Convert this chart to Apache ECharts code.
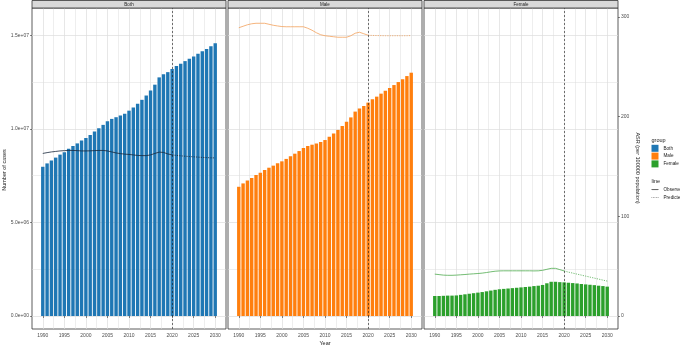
<!DOCTYPE html>
<html>
<head>
<meta charset="utf-8">
<script src="https://cdn.jsdelivr.net/npm/echarts@6/dist/echarts.min.js"></script>
<style>
  html, body { margin: 0; padding: 0; background: #fff; }
  #main { width: 680px; height: 347px; }
</style>
</head>
<body>
<div id="main"></div>
<script>
// data
const years = [1990, 1991, 1992, 1993, 1994, 1995, 1996, 1997, 1998, 1999,
  2000, 2001, 2002, 2003, 2004, 2005, 2006, 2007, 2008, 2009,
  2010, 2011, 2012, 2013, 2014, 2015, 2016, 2017, 2018, 2019,
  2020, 2021, 2022, 2023, 2024, 2025, 2026, 2027, 2028, 2029, 2030];
const groups = ['Both', 'Male', 'Female'];

const casesBoth = [7980000, 8160000, 8320000, 8470000, 8630000, 8760000, 8940000, 9090000, 9230000, 9390000,
  9520000, 9680000, 9860000, 10040000, 10220000, 10410000, 10540000, 10630000, 10720000, 10810000,
  10980000, 11150000, 11350000, 11560000, 11790000, 12060000, 12370000, 12760000, 12930000, 13040000,
  13210000, 13370000, 13490000, 13630000, 13760000, 13880000, 14020000, 14160000, 14280000, 14430000, 14580000];
const casesMale = [6910000, 7090000, 7240000, 7380000, 7540000, 7660000, 7810000, 7930000, 8040000, 8170000,
  8270000, 8400000, 8540000, 8680000, 8820000, 8980000, 9090000, 9160000, 9230000, 9300000,
  9410000, 9580000, 9760000, 9950000, 10160000, 10390000, 10620000, 10930000, 11100000, 11230000,
  11410000, 11590000, 11730000, 11890000, 12050000, 12190000, 12350000, 12510000, 12660000, 12830000, 13010000];
const casesFemale = [1070000, 1070000, 1080000, 1090000, 1090000, 1100000, 1130000, 1160000, 1190000, 1220000,
  1250000, 1280000, 1320000, 1360000, 1400000, 1430000, 1450000, 1470000, 1490000, 1510000,
  1530000, 1550000, 1570000, 1600000, 1620000, 1660000, 1750000, 1830000, 1830000, 1810000,
  1800000, 1780000, 1760000, 1740000, 1710000, 1690000, 1670000, 1650000, 1620000, 1600000, 1570000];

// ASR (per 100000 population)
const asrBoth = [163.0, 163.8, 164.5, 165.0, 165.5, 165.8, 166.0, 166.0, 165.8, 165.5,
  165.5, 165.6, 165.8, 166.0, 166.0, 165.5, 164.5, 163.5, 162.8, 162.3,
  162.0, 161.5, 161.0, 160.8, 160.8, 161.5, 163.0, 164.3, 164.0, 162.5,
  161.5, 161.0, 160.6, 160.2, 159.9, 159.6, 159.3, 159.0, 158.8, 158.6, 158.5];
const asrMale = [289.0, 290.5, 292.0, 293.0, 293.5, 293.5, 293.5, 292.5, 291.5, 290.8,
  290.2, 290.0, 290.0, 290.0, 290.0, 290.0, 288.5, 286.5, 284.0, 282.0,
  281.0, 280.5, 280.0, 279.5, 279.5, 279.5, 281.0, 283.5, 284.5, 283.0,
  281.5, 281.3, 281.2, 281.1, 281.0, 281.0, 281.0, 281.0, 281.0, 281.0, 281.2];
const asrFemale = [42.0, 41.5, 41.0, 40.8, 40.8, 41.0, 41.3, 41.6, 42.0, 42.3,
  42.6, 43.0, 43.6, 44.3, 44.9, 45.2, 45.3, 45.3, 45.3, 45.3,
  45.3, 45.3, 45.3, 45.2, 45.3, 45.8, 46.8, 47.8, 47.8, 46.5,
  45.2, 44.0, 43.0, 42.0, 41.0, 40.0, 39.0, 38.0, 37.0, 36.0, 35.0];

const splitYear = 2020;   // observed | predicted
const xTicks = [1990, 1995, 2000, 2005, 2010, 2015, 2020, 2025, 2030];
const xMinor = [1992.5, 1997.5, 2002.5, 2007.5, 2012.5, 2017.5, 2022.5, 2027.5];
const yTicks = [0, 5000000, 10000000, 15000000];
const yMinor = [2500000, 7500000, 12500000];
const asrTicks = [0, 100, 200, 300];

const cases = [casesBoth, casesMale, casesFemale];
const asr = [asrBoth, asrMale, asrFemale];
const barColors = ['#1F77B4', '#FF7F0E', '#2CA02C'];
const lineColors = ['#16263a', '#f2a15c', '#4fab4f'];

// layout
const font = 'Liberation Sans';
const panelLeft = [32, 228, 424];
const panelWidth = 194, panelTop = 8, panelHeight = 321;
const xMin = 1987.5, xMax = 2032.5;
const yMin = -695000, yMax = 16470000;
const secFactor = 16000000 / 300;   // sec.axis transform
const gridColor = '#dcdcdc';

function sci(v) {
  if (v === 0) return '0.0e+00';
  let e = Math.floor(Math.log10(v));
  let m = (v / Math.pow(10, e)).toFixed(1);
  return m + 'e+' + (e < 10 ? '0' + e : e);
}

var myChart = echarts.init(document.getElementById('main'));

let grid = [], xAxis = [], yAxis = [], series = [], graphic = [];

groups.forEach((g, i) => {
  grid.push({
    left: panelLeft[i], top: panelTop, width: panelWidth, height: panelHeight,
    show: true, borderColor: '#333', borderWidth: 0.8, backgroundColor: 'transparent',
    outerBoundsMode: 'none', containLabel: false
  });

  // x: majors with labels, then a bare axis for minor grid lines
  xAxis.push({
    type: 'value', gridIndex: i, min: xMin, max: xMax, position: 'bottom',
    axisLine: { show: false },
    axisTick: { show: true, customValues: xTicks, length: 2, lineStyle: { color: '#333', width: 0.6 } },
    axisLabel: { customValues: xTicks, fontSize: 5, color: '#4d4d4d', margin: 4, fontFamily: font,
      formatter: v => String(v) },
    splitLine: { show: true, lineStyle: { color: gridColor, width: 0.7 } }
  });
  xAxis.push({
    type: 'value', gridIndex: i, min: xMin, max: xMax, position: 'bottom',
    axisLine: { show: false },
    axisTick: { show: false, customValues: xMinor },
    axisLabel: { show: false, customValues: xMinor },
    splitLine: { show: true, lineStyle: { color: gridColor, width: 0.5 } }
  });

  // y: cases (left), ASR (right), minor grid
  yAxis.push({
    type: 'value', gridIndex: i, min: yMin, max: yMax, position: 'left',
    axisLine: { show: false },
    axisTick: { show: i === 0, customValues: yTicks, length: 2, lineStyle: { color: '#333', width: 0.6 } },
    axisLabel: { show: i === 0, customValues: yTicks, fontSize: 5, color: '#4d4d4d', margin: 3,
      fontFamily: font, formatter: sci },
    splitLine: { show: true, lineStyle: { color: gridColor, width: 0.7 } }
  });
  yAxis.push({
    type: 'value', gridIndex: i, min: yMin / secFactor, max: yMax / secFactor, position: 'right',
    axisLine: { show: false },
    axisTick: { show: i === 2, customValues: asrTicks, length: 2, lineStyle: { color: '#333', width: 0.6 } },
    axisLabel: { show: i === 2, customValues: asrTicks, fontSize: 5, color: '#4d4d4d', margin: 3,
      fontFamily: font, formatter: v => String(v) },
    splitLine: { show: false }
  });
  yAxis.push({
    type: 'value', gridIndex: i, min: yMin, max: yMax, position: 'left',
    axisLine: { show: false },
    axisTick: { show: false, customValues: yMinor },
    axisLabel: { show: false, customValues: yMinor },
    splitLine: { show: true, lineStyle: { color: gridColor, width: 0.5 } }
  });

  series.push({
    name: g, type: 'bar', xAxisIndex: i * 2, yAxisIndex: i * 3,
    barWidth: 3.4,
    itemStyle: { color: barColors[i] },
    data: years.map((y, k) => [y, cases[i][k]]),
    markLine: {
      silent: true, symbol: ['none', 'none'], label: { show: false },
      lineStyle: { type: [2, 2], color: '#1a1a1a', width: 0.6 },
      data: [{ xAxis: splitYear }]
    }
  });

  let obs = [], pred = [];
  years.forEach((y, k) => {
    if (y <= splitYear) obs.push([y, asr[i][k]]);
    if (y >= splitYear) pred.push([y, asr[i][k]]);
  });
  series.push({
    name: 'Observed', type: 'line', xAxisIndex: i * 2, yAxisIndex: i * 3 + 1,
    symbol: 'none', showSymbol: false, z: 3,
    lineStyle: { color: lineColors[i], width: 0.8 },
    itemStyle: { color: lineColors[i] },
    data: obs
  });
  series.push({
    name: 'Predicted', type: 'line', xAxisIndex: i * 2, yAxisIndex: i * 3 + 1,
    symbol: 'none', showSymbol: false, z: 3,
    lineStyle: { color: lineColors[i], width: 0.8, type: [1.2, 1.2] },
    itemStyle: { color: lineColors[i] },
    data: pred
  });

  // facet strip
  graphic.push({
    type: 'rect', z: 10,
    shape: { x: panelLeft[i], y: 0.5, width: panelWidth, height: 7.5 },
    style: { fill: '#d9d9d9', stroke: '#333', lineWidth: 0.8 }
  });
  graphic.push({
    type: 'text', z: 11, x: panelLeft[i] + panelWidth / 2, y: 4.4,
    style: { text: g, fontSize: 4.5, fontFamily: font, fill: '#1a1a1a',
      textAlign: 'center', textVerticalAlign: 'middle' }
  });
});

// axis titles and legend titles
graphic.push(
  { type: 'text', x: 4.5, y: 170, rotation: Math.PI / 2,
    style: { text: 'Number of cases', fontSize: 5.5, fontFamily: font, fill: '#1a1a1a',
      textAlign: 'center', textVerticalAlign: 'middle' } },
  { type: 'text', x: 638, y: 168, rotation: -Math.PI / 2,
    style: { text: 'ASR (per 100000 population)', fontSize: 5.5, fontFamily: font, fill: '#1a1a1a',
      textAlign: 'center', textVerticalAlign: 'middle' } },
  { type: 'text', x: 325, y: 343,
    style: { text: 'Year', fontSize: 5.5, fontFamily: font, fill: '#1a1a1a',
      textAlign: 'center', textVerticalAlign: 'middle' } },
  { type: 'text', x: 651.5, y: 140,
    style: { text: 'group', fontSize: 5.5, fontFamily: font, fill: '#1a1a1a',
      textAlign: 'left', textVerticalAlign: 'middle' } },
  { type: 'text', x: 651.5, y: 181,
    style: { text: 'line', fontSize: 5.5, fontFamily: font, fill: '#1a1a1a',
      textAlign: 'left', textVerticalAlign: 'middle' } }
);

// legend keys for the line types: a bar and a row of dots
const solidKey = 'path://M0,0h10v1h-10z';
const dottedKey = 'path://M0,0h1v1h-1z M2.2,0h1v1h-1z M4.4,0h1v1h-1z M6.6,0h1v1h-1z M8.8,0h1.2v1h-1.2z';

myChart.setOption({
  animation: false,
  backgroundColor: '#fff',
  textStyle: { fontFamily: font },
  grid: grid,
  xAxis: xAxis,
  yAxis: yAxis,
  legend: [
    {
      data: groups, orient: 'vertical', left: 651.5, top: 144.8, padding: 0,
      itemWidth: 7, itemHeight: 7, itemGap: 0.8, icon: 'rect', selectedMode: false,
      textStyle: { fontSize: 4.6, color: '#1a1a1a', fontFamily: font }
    },
    {
      data: [
        { name: 'Observed', icon: solidKey, itemStyle: { color: '#1a1a1a' } },
        { name: 'Predicted', icon: dottedKey, itemStyle: { color: '#1a1a1a' } }
      ],
      orient: 'vertical', left: 651.5, top: 187.2, padding: 0,
      itemWidth: 7, itemHeight: 0.7, itemGap: 2.8, selectedMode: false,
      textStyle: { fontSize: 4.6, color: '#1a1a1a', fontFamily: font }
    }
  ],
  graphic: graphic,
  series: series
});
</script>
</body>
</html>
